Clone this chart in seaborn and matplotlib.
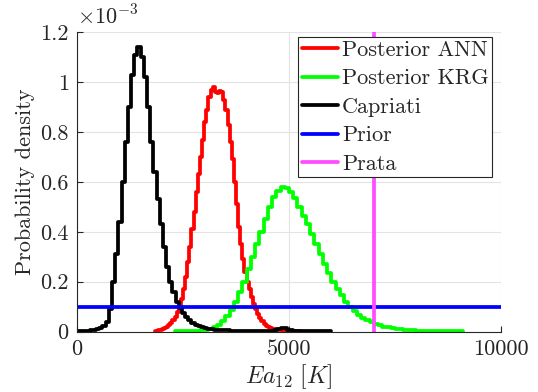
import numpy as np
import pandas as pd
import matplotlib
matplotlib.use("Agg")
import matplotlib.pyplot as plt
import seaborn as sns
from matplotlib.ticker import FuncFormatter, FixedLocator
from matplotlib.lines import Line2D

# ---------------- data (heights in units of 1e-3) ----------------
capriati_start, capriati_width = 0, 75
capriati_h = [0.002, 0.002, 0.003, 0.004, 0.005, 0.007, 0.010, 0.015, 0.024, 0.040,
              0.09, 0.20, 0.31, 0.44, 0.60, 0.76, 0.90, 1.03, 1.11, 1.14,
              1.10, 1.02, 0.90, 0.76, 0.64, 0.53, 0.43, 0.34, 0.26, 0.20,
              0.16, 0.12, 0.095, 0.075, 0.058, 0.045, 0.035, 0.028, 0.022, 0.017,
              0.014, 0.011, 0.009, 0.008, 0.007, 0.006, 0.005, 0.005, 0.004, 0.004,
              0.004, 0.003, 0.003, 0.003, 0.003, 0.003, 0.003, 0.003, 0.003, 0.003,
              0.003, 0.004, 0.006, 0.010, 0.016, 0.014, 0.008, 0.005, 0.003, 0.002,
              0.002, 0.002, 0.002, 0.002, 0.002, 0.002, 0.002, 0.002, 0.002, 0.002]

ann_start, ann_width = 1850, 50
ann_h = [0.004, 0.006, 0.008, 0.011, 0.015, 0.020, 0.026, 0.034, 0.045, 0.060,
         0.078, 0.10, 0.13, 0.17, 0.22, 0.28, 0.34, 0.41, 0.48, 0.56,
         0.63, 0.70, 0.77, 0.84, 0.89, 0.94, 0.97, 0.98, 0.96, 0.955,
         0.965, 0.96, 0.93, 0.89, 0.83, 0.76, 0.69, 0.60, 0.51, 0.42,
         0.35, 0.29, 0.24, 0.20, 0.17, 0.14, 0.11, 0.09, 0.07, 0.055,
         0.042, 0.032, 0.024, 0.018, 0.014, 0.011, 0.009, 0.007, 0.006, 0.005,
         0.004, 0.004, 0.003, 0.003, 0.002, 0.002, 0.002, 0.002]

krg_start, krg_width = 2300, 100
krg_h = [0.001, 0.001, 0.002, 0.002, 0.003, 0.004, 0.006, 0.008, 0.012, 0.018,
         0.028, 0.042, 0.062, 0.088, 0.12, 0.16, 0.20, 0.25, 0.30, 0.35,
         0.40, 0.45, 0.50, 0.54, 0.565, 0.578, 0.575, 0.56, 0.535, 0.50,
         0.465, 0.43, 0.39, 0.35, 0.31, 0.27, 0.235, 0.20, 0.17, 0.145,
         0.12, 0.10, 0.082, 0.067, 0.055, 0.045, 0.037, 0.030, 0.025, 0.020,
         0.017, 0.014, 0.011, 0.009, 0.008, 0.006, 0.005, 0.004, 0.004, 0.003,
         0.003, 0.002, 0.002, 0.002, 0.002, 0.001, 0.001, 0.001]

prior_range = [0, 10000]
prior_density = 0.1  # 1e-3 units
prata_value = 7000

labels = ["Posterior ANN", "Posterior KRG", "Capriati", "Prior", "Prata"]
colors = ["#ff0000", "#00ff00", "#000000", "#0000ff", "#ff4cff"]
x_ticks = [0, 5000, 10000]
y_ticks = [0, 0.2, 0.4, 0.6, 0.8, 1.0, 1.2]

# ---------------- style ----------------
sns.set_style("ticks")
plt.rcParams["font.family"] = ["serif"]
plt.rcParams["font.serif"] = ["cmr10", "DejaVu Serif"]
plt.rcParams["mathtext.fontset"] = "cm"
plt.rcParams["axes.formatter.use_mathtext"] = True
plt.rcParams["axes.unicode_minus"] = False

fig = plt.figure(figsize=(5.38, 3.92), dpi=100)
ax = fig.add_axes([77/538, 1 - 331.5/392, 424/538, 299.2/392])

lw = 2.7
def stairs(start, width, heights, color, label):
    h = [float(v) * 1e-3 for v in heights]
    edges = [float(start + width * i) for i in range(len(h) + 1)]
    centers = [0.5 * (edges[i] + edges[i + 1]) for i in range(len(h))]
    df = pd.DataFrame({"x": centers, "w": h})
    sns.histplot(data=df, x="x", weights="w", bins=edges, element="step",
                 fill=False, color=color, linewidth=lw, ax=ax, label=label)

stairs(ann_start, ann_width, ann_h, colors[0], labels[0])
stairs(krg_start, krg_width, krg_h, colors[1], labels[1])
stairs(capriati_start, capriati_width, capriati_h, colors[2], labels[2])
sns.lineplot(x=prior_range, y=[prior_density * 1e-3] * 2, color=colors[3],
             linewidth=lw, ax=ax, label=labels[3])
ax.axvline(prata_value, color=colors[4], linewidth=lw, label=labels[4])

ax.set_xlim(0, 10000)
ax.set_ylim(0, 1.2e-3)
ax.xaxis.set_major_locator(FixedLocator(x_ticks))
ax.yaxis.set_major_locator(FixedLocator([v * 1e-3 for v in y_ticks]))
ax.yaxis.set_major_formatter(FuncFormatter(lambda v, p: "%g" % round(v * 1e3, 3)))
ax.xaxis.set_major_formatter(FuncFormatter(lambda v, p: "%d" % v))

ax.grid(True, color="#e3e3e3", linewidth=0.8)
ax.set_axisbelow(True)
for s in ["top", "right"]:
    ax.spines[s].set_visible(False)
for s in ["left", "bottom"]:
    ax.spines[s].set_color("#262626")
    ax.spines[s].set_linewidth(0.8)
ax.tick_params(direction="in", length=4, width=0.8, colors="#262626",
               labelsize=16, labelcolor="#262626", pad=6)

ax.set_xlabel(r"$Ea_{12}\ [K]$", fontsize=17, color="#262626", labelpad=2)
ax.set_ylabel("Probability density", fontsize=16, color="#262626", labelpad=4)
ax.text(0.0, 1.012, r"$\times 10^{-3}$", transform=ax.transAxes,
        fontsize=16, color="#262626", ha="left", va="bottom")

handles = [Line2D([], [], color=c, linewidth=lw) for c in colors]
leg = ax.legend(handles, labels,
                loc="upper right", bbox_to_anchor=(0.979, 0.984),
                borderaxespad=0, fontsize=16, fancybox=False, framealpha=1,
                edgecolor="#262626", handlelength=1.62, handletextpad=0.2,
                labelspacing=0.4, borderpad=0.15)
leg.get_frame().set_linewidth(0.8)

fig.savefig("out.png", dpi=100)
